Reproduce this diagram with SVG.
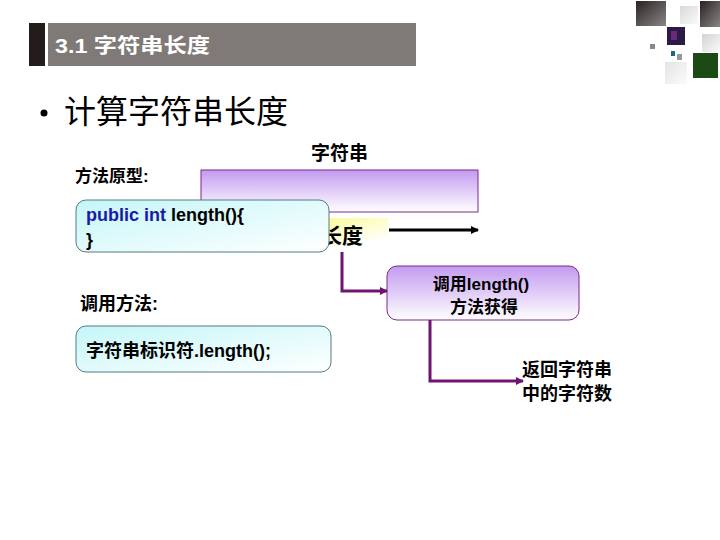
<svg xmlns="http://www.w3.org/2000/svg" width="720" height="540" viewBox="0 0 720 540">
<defs>
<linearGradient id="gPurple" x1="0" y1="0" x2="0" y2="1">
<stop offset="0" stop-color="#c39af0"/><stop offset="1" stop-color="#ffffff"/>
</linearGradient>
<linearGradient id="gCyan" x1="0" y1="0" x2="1" y2="1">
<stop offset="0" stop-color="#c4f6f8"/><stop offset="1" stop-color="#ffffff"/>
</linearGradient>
<linearGradient id="gYellow" x1="0" y1="0" x2="0.6" y2="1">
<stop offset="0" stop-color="#fbfb9c"/><stop offset="1" stop-color="#ffffff"/>
</linearGradient>
<linearGradient id="gDark" x1="0" y1="0" x2="1" y2="1">
<stop offset="0" stop-color="#2a2222"/><stop offset="1" stop-color="#8a8686"/>
</linearGradient>
<linearGradient id="gLight" x1="0" y1="0" x2="1" y2="1">
<stop offset="0" stop-color="#c8c8c8"/><stop offset="1" stop-color="#f8f8f8"/>
</linearGradient>
<marker id="ahP" markerWidth="8" markerHeight="8" refX="7" refY="4" orient="auto" markerUnits="userSpaceOnUse">
<path d="M0,0 L8,4 L0,8 z" fill="#6e1470"/>
</marker>
<marker id="ahK" markerWidth="8" markerHeight="8" refX="7" refY="4" orient="auto" markerUnits="userSpaceOnUse">
<path d="M0,0 L8,4 L0,8 z" fill="#000"/>
</marker>
</defs>
<style>
.t{font-family:"Liberation Sans","Noto Sans CJK SC",sans-serif;font-weight:bold;fill:#000}
.pc{fill:none;stroke:#6e1470;stroke-width:3}
</style>
<rect width="720" height="540" fill="#fff"/>
<!-- decoration -->
<g id="deco">
<rect x="636" y="1" width="30" height="25" fill="url(#gDark)"/>
<rect x="700" y="1" width="20" height="26" fill="url(#gDark)"/>
<rect x="680" y="6" width="18" height="18" fill="url(#gLight)" opacity="0.7"/>
<rect x="702" y="34" width="18" height="18" fill="url(#gLight)" opacity="0.8"/>
<rect x="667" y="27" width="18" height="18" fill="#2b1a45"/>
<rect x="671" y="31" width="6" height="9" fill="#6a2a7a"/>
<rect x="650" y="44" width="5" height="5" fill="#888"/>
<rect x="671" y="51" width="4" height="5" fill="#1b6a80"/>
<rect x="677" y="54" width="5" height="6" fill="#999"/>
<rect x="693" y="53" width="25" height="25" fill="#1c4a14"/>
<rect x="665" y="62" width="22" height="22" fill="url(#gLight)" opacity="0.5"/>
</g>
<!-- header -->
<g id="header">
<rect x="29" y="23" width="16" height="43" fill="#231c1a"/>
<rect x="48" y="23" width="368" height="43" fill="#7f7a77"/>
<text x="55" y="53" class="t" font-size="20" textLength="155" lengthAdjust="spacingAndGlyphs" style="fill:#fff">3.1 字符串长度</text>
</g>
<g id="bullet">
<circle cx="44" cy="113" r="3.5" fill="#000"/>
<text x="64" y="123" font-family="'Noto Sans CJK SC',sans-serif" font-size="32" fill="#000">计算字符串长度</text>
</g>
<text x="311" y="160" class="t" font-size="19">字符串</text>
<text x="75" y="182" class="t" font-size="17">方法原型:</text>
<text x="80" y="310" class="t" font-size="18">调用方法:</text>
<g id="stringBox">
<rect x="201" y="170" width="277" height="42" fill="url(#gPurple)" stroke="#7a2a8a"/>
</g>
<g id="lengthLabel">
<rect x="326" y="218" width="62" height="28" fill="url(#gYellow)"/>
<text x="363" y="243" class="t" font-size="21" text-anchor="end">长度</text>
</g>
<g id="proto">
<rect x="76" y="200" width="253" height="52" rx="10" fill="url(#gCyan)" stroke="#557a80"/>
<text x="86" y="221" class="t" font-size="18"><tspan fill="#1a1aa8">public int</tspan> length(){</text>
<text x="86" y="246" class="t" font-size="18">}</text>
</g>
<g id="callBox">
<rect x="387" y="266" width="192" height="54" rx="10" fill="url(#gPurple)" stroke="#7a2a8a"/>
<text x="481" y="290" class="t" font-size="17" text-anchor="middle">调用length()</text>
<text x="484" y="313" class="t" font-size="17" text-anchor="middle">方法获得</text>
</g>
<g id="usage">
<rect x="76" y="326" width="255" height="46" rx="10" fill="url(#gCyan)" stroke="#557a80"/>
<text x="86" y="357" class="t" font-size="18">字符串标识符.length();</text>
</g>
<g id="result">
<text x="522" y="376" class="t" font-size="18">返回字符串</text>
<text x="522" y="400" class="t" font-size="18">中的字符数</text>
</g>
<g id="connectors">
<line x1="389" y1="230" x2="478" y2="230" stroke="#000" stroke-width="3" marker-end="url(#ahK)"/>
<path class="pc" d="M342,252 V291 H387" marker-end="url(#ahP)"/>
<path class="pc" d="M430,320 V381 H523" marker-end="url(#ahP)"/>
</g>
</svg>
